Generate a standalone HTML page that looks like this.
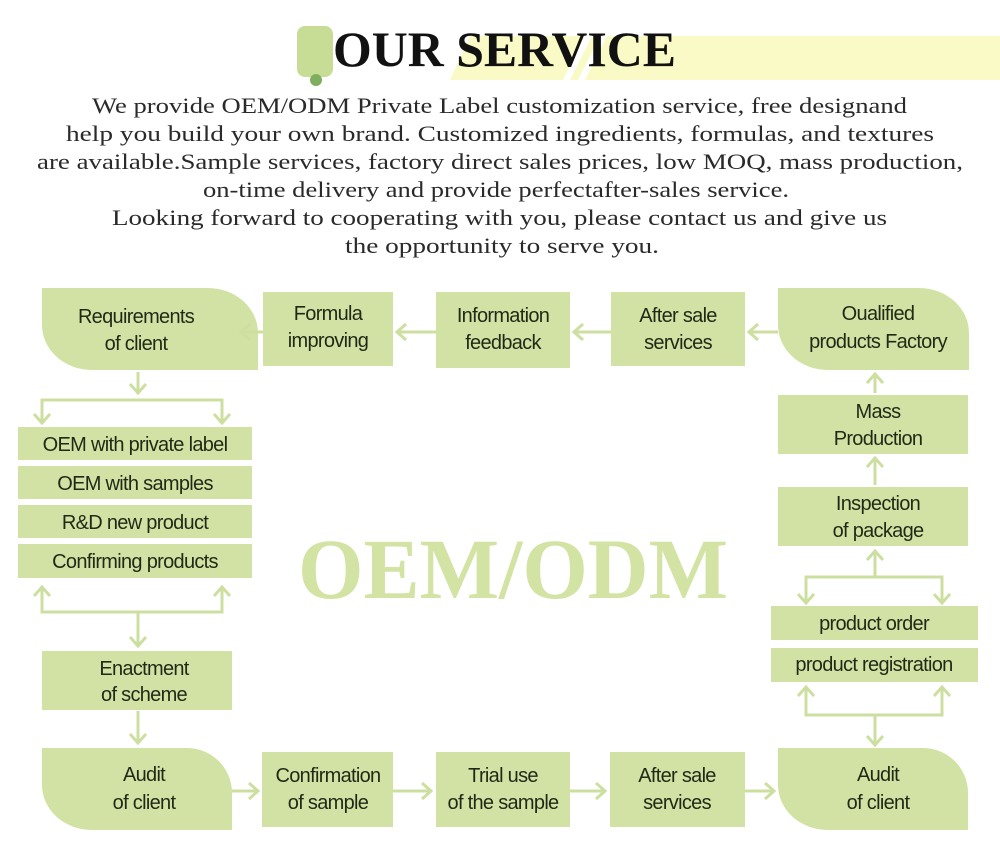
<!DOCTYPE html>
<html><head><meta charset="utf-8"><style>
html,body{margin:0;padding:0;background:#fff;}
svg{display:block;}
.b{fill:#d2e2a4;}
.t{font-family:"Liberation Sans",sans-serif;font-size:20px;fill:#1f2916;text-anchor:middle;letter-spacing:-0.7px;}
.p{font-family:"Liberation Serif",serif;font-size:22px;fill:#2a2a2a;}
.a{stroke:#cddfa0;stroke-width:3;fill:none;}
</style></head><body>
<svg width="1000" height="853" viewBox="0 0 1000 853" xmlns="http://www.w3.org/2000/svg">
<!-- header -->
<polygon points="470,36 1000,36 1000,80 450,80" fill="#fafac6"/>
<polygon points="585,36 592,36 570,80 563,80" fill="#fff"/>
<polygon points="600,36 607,36 585,80 578,80" fill="#fff"/>
<rect x="297" y="26" width="36" height="51" rx="8" fill="#c7dd96"/>
<circle cx="316" cy="80" r="6" fill="#7fae5f"/>
<text x="333" y="66" font-family="Liberation Serif,serif" font-weight="bold" font-size="50" textLength="343" lengthAdjust="spacingAndGlyphs" fill="#111">OUR SERVICE</text>
<text class="p" x="92" y="113" textLength="815" lengthAdjust="spacingAndGlyphs">We provide OEM/ODM Private Label customization service, free designand</text>
<text class="p" x="66" y="141" textLength="868" lengthAdjust="spacingAndGlyphs">help you build your own brand. Customized ingredients, formulas, and textures</text>
<text class="p" x="37" y="169" textLength="926" lengthAdjust="spacingAndGlyphs">are available.Sample services, factory direct sales prices, low MOQ, mass production,</text>
<text class="p" x="203" y="197" textLength="586" lengthAdjust="spacingAndGlyphs">on-time delivery and provide perfectafter-sales service.</text>
<text class="p" x="112" y="225" textLength="775" lengthAdjust="spacingAndGlyphs">Looking forward to cooperating with you, please contact us and give us</text>
<text class="p" x="345" y="253" textLength="314" lengthAdjust="spacingAndGlyphs">the opportunity to serve you.</text>

<!-- big watermark -->
<text x="298" y="598" font-family="Liberation Serif,serif" font-weight="bold" font-size="86" textLength="430" lengthAdjust="spacingAndGlyphs" fill="#d3e3a4">OEM/ODM</text>

<!-- top row -->
<path class="b" d="M42,288 H208 A50,45 0 0 1 258,333 V370 H92 A50,45 0 0 1 42,325 Z"/>
<text class="t" x="136" y="323">Requirements</text><text class="t" x="136" y="350">of client</text>
<rect class="b" x="263" y="292" width="130" height="74"/>
<text class="t" x="328" y="320">Formula</text><text class="t" x="328" y="347">improving</text>
<rect class="b" x="436" y="292" width="134" height="76"/>
<text class="t" x="503" y="322">Information</text><text class="t" x="503" y="349">feedback</text>
<rect class="b" x="611" y="292" width="134" height="74"/>
<text class="t" x="678" y="322">After sale</text><text class="t" x="678" y="349">services</text>
<path class="b" d="M778,288 H919 A50,45 0 0 1 969,333 V370 H828 A50,45 0 0 1 778,325 Z"/>
<text class="t" x="878" y="320">Oualified</text><text class="t" x="878" y="348">products Factory</text>

<!-- top arrows (left) -->
<g class="a">
<line x1="263" y1="332" x2="240" y2="332"/><polyline points="250,324 241,332 250,340"/>
<line x1="436" y1="332" x2="396" y2="332"/><polyline points="406,324 397,332 406,340"/>
<line x1="611" y1="332" x2="573" y2="332"/><polyline points="583,324 574,332 583,340"/>
<line x1="778" y1="332" x2="748" y2="332"/><polyline points="758,324 749,332 758,340"/>
</g>

<!-- left column -->
<g class="a">
<line x1="138" y1="372" x2="138" y2="394"/><polyline points="130,384 138,393 146,384"/>
<polyline points="42,424 42,400 222,400 222,424"/>
<polyline points="34,414 42,423 50,414"/><polyline points="214,414 222,423 230,414"/>
<polyline points="42,587 42,612 222,612 222,587"/>
<polyline points="34,596 42,587 50,596"/><polyline points="214,596 222,587 230,596"/>
<line x1="138" y1="612" x2="138" y2="646"/><polyline points="130,637 138,646 146,637"/>
<line x1="138" y1="711" x2="138" y2="743"/><polyline points="130,734 138,743 146,734"/>
</g>
<rect class="b" x="18" y="427" width="234" height="33"/><text class="t" x="135" y="451">OEM with private label</text>
<rect class="b" x="18" y="466" width="234" height="33"/><text class="t" x="135" y="490">OEM with samples</text>
<rect class="b" x="18" y="505" width="234" height="33"/><text class="t" x="135" y="529">R&amp;D new product</text>
<rect class="b" x="18" y="544" width="234" height="34"/><text class="t" x="135" y="568">Confirming products</text>
<rect class="b" x="42" y="651" width="190" height="59"/>
<text class="t" x="144" y="675">Enactment</text><text class="t" x="144" y="701">of scheme</text>

<!-- bottom row -->
<path class="b" d="M42,748 H187 A45,45 0 0 1 232,793 V830 H92 A50,45 0 0 1 42,785 Z"/>
<text class="t" x="144" y="781">Audit</text><text class="t" x="144" y="809">of client</text>
<rect class="b" x="262" y="752" width="131" height="75"/>
<text class="t" x="328" y="782">Confirmation</text><text class="t" x="328" y="809">of sample</text>
<rect class="b" x="436" y="752" width="134" height="75"/>
<text class="t" x="503" y="782">Trial use</text><text class="t" x="503" y="809">of the sample</text>
<rect class="b" x="610" y="752" width="135" height="75"/>
<text class="t" x="677" y="782">After sale</text><text class="t" x="677" y="809">services</text>
<path class="b" d="M778,748 H923 A45,45 0 0 1 968,793 V830 H828 A50,45 0 0 1 778,785 Z"/>
<text class="t" x="878" y="781">Audit</text><text class="t" x="878" y="809">of client</text>
<g class="a">
<line x1="232" y1="791" x2="258" y2="791"/><polyline points="249,783 258,791 249,799"/>
<line x1="393" y1="791" x2="431" y2="791"/><polyline points="422,783 431,791 422,799"/>
<line x1="570" y1="791" x2="605" y2="791"/><polyline points="596,783 605,791 596,799"/>
<line x1="745" y1="791" x2="774" y2="791"/><polyline points="765,783 774,791 765,799"/>
</g>

<!-- right column -->
<rect class="b" x="778" y="395" width="190" height="59"/>
<text class="t" x="878" y="418">Mass</text><text class="t" x="878" y="445">Production</text>
<rect class="b" x="778" y="487" width="190" height="59"/>
<text class="t" x="878" y="510">Inspection</text><text class="t" x="878" y="537">of package</text>
<rect class="b" x="771" y="606" width="207" height="34"/><text class="t" x="874" y="630">product order</text>
<rect class="b" x="771" y="648" width="207" height="34"/><text class="t" x="874" y="671">product registration</text>
<g class="a">
<line x1="875" y1="393" x2="875" y2="374"/><polyline points="867,383 875,374 883,383"/>
<line x1="875" y1="485" x2="875" y2="458"/><polyline points="867,467 875,458 883,467"/>
<line x1="875" y1="577" x2="875" y2="551"/><polyline points="867,560 875,551 883,560"/>
<polyline points="806,603 806,577 942,577 942,603"/>
<polyline points="798,594 806,603 814,594"/><polyline points="934,594 942,603 950,594"/>
<polyline points="806,687 806,715 942,715 942,687"/>
<polyline points="798,696 806,687 814,696"/><polyline points="934,696 942,687 950,696"/>
<line x1="875" y1="715" x2="875" y2="745"/><polyline points="867,736 875,745 883,736"/>
</g>
</svg>
</body></html>
